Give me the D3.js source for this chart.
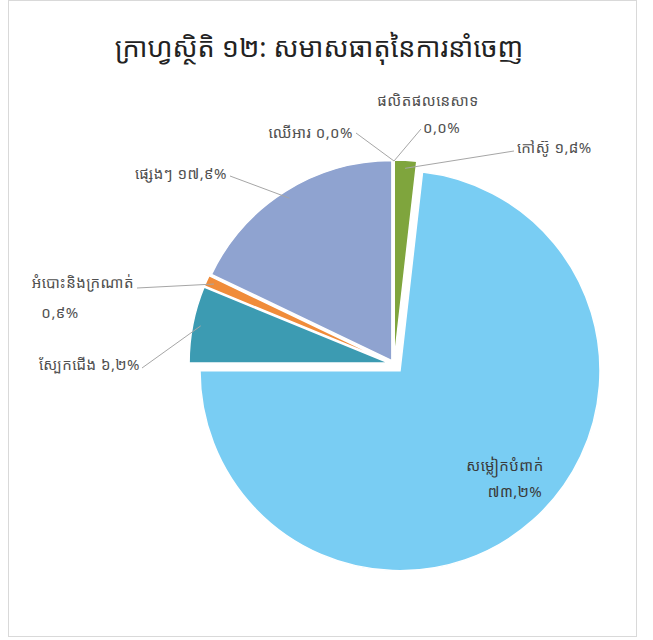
<!DOCTYPE html>
<head>
  <meta charset="utf-8">
  <title>Export composition</title>
  <script src="https://cdn.jsdelivr.net/npm/d3@7"></script>
  <style>
    body { margin: 0; background: #fff; }
    text { font-family: "Noto Sans Khmer", "Khmer OS", "Noto Sans", sans-serif; }
  </style>
</head>
<body>
<div id="chart"></div>
<script>
  // data (clockwise from 12 o'clock)
  var categories = ["ផលិតផលនេសាទ", "កៅស៊ូ", "សម្លៀកបំពាក់", "ស្បែកជើង", "អំបោះនិងក្រណាត់", "ផ្សេងៗ", "ឈើអារ"];
  var shares = [0.0, 1.8, 73.2, 6.2, 0.9, 17.9, 0.0];
  var colors = ["#4a7ebb", "#7fa53d", "#79cdf3", "#3c9bb2", "#f08c3a", "#8fa3d0", "#c0504d"];
  var title = "ក្រាហ្វស្ថិតិ ១២: សមាសធាតុនៃការនាំចេញ";

  var width = 653, height = 640;
  var cx = 394, cy = 364, r = 200;

  var khDigits = "០១២៣៤៥៦៧៨៩";
  function kh(v) {
    return v.toFixed(1).replace(".", ",").replace(/[0-9]/g, function(d) { return khDigits[+d]; }) + "%";
  }

  var svg = d3.select("#chart").append("svg")
    .attr("width", width).attr("height", height);

  // frame
  svg.append("rect")
    .attr("x", 8.5).attr("y", 0.5).attr("width", 628).attr("height", 636)
    .attr("fill", "#fff").attr("stroke", "#d9d9d9");

  svg.append("text")
    .attr("x", 319).attr("y", 57)
    .attr("text-anchor", "middle")
    .attr("font-size", 27)
    .attr("fill", "#222")
    .text(title);

  var pie = d3.pie().sort(null).value(function(d) { return d; });
  var arcs = pie(shares);
  var arc = d3.arc().innerRadius(0).outerRadius(r);

  // exploded offsets per slice
  var explode = [4, 4, 9, 5, 5, 4, 4];

  var g = svg.append("g").attr("transform", "translate(" + cx + "," + cy + ")");

  g.selectAll("path.slice")
    .data(arcs)
    .enter().append("path")
    .attr("class", "slice")
    .attr("transform", function(d, i) {
      var a = (d.startAngle + d.endAngle) / 2;
      return "translate(" + (Math.sin(a) * explode[i]) + "," + (-Math.cos(a) * explode[i]) + ")";
    })
    .attr("d", arc)
    .attr("fill", function(d, i) { return colors[i]; })
    .attr("stroke", "#fff")
    .attr("stroke-width", 1.5);

  // label layout: text position and leader end (page coords)
  var labelLayout = [
    { two: true, x: 428, y: 106, anchor: "middle", px: 423, py: 133, panchor: "start", lx: 421, ly: 129 },
    { x: 517, y: 153, anchor: "start", lx: 514, ly: 151 },
    { inside: true, x: 505, y: 471, px: 515, py: 497 },
    { x: 140, y: 370, anchor: "end", lx: 142, ly: 368 },
    { two: true, x: 134, y: 288, anchor: "end", px: 60, py: 318, panchor: "middle", lx: 137, ly: 288 },
    { x: 227, y: 179, anchor: "end", lx: 230, ly: 176 },
    { x: 353, y: 138, anchor: "end", lx: 356, ly: 133 }
  ];

  var labels = svg.append("g").attr("font-size", 15).attr("fill", "#505050")
    .attr("letter-spacing", 0.5);

  arcs.forEach(function(d, i) {
    var L = labelLayout[i];
    var a = (d.startAngle + d.endAngle) / 2;
    var e = explode[i];
    if (L.inside) {
      labels.append("text").attr("x", L.x).attr("y", L.y).attr("text-anchor", "middle")
        .attr("fill", "#3a3a3a").text(categories[i]);
      labels.append("text").attr("x", L.px).attr("y", L.py).attr("text-anchor", "middle")
        .attr("fill", "#3a3a3a").text(kh(shares[i]));
      return;
    }
    // leader from slice edge to label
    var sx = cx + Math.sin(a) * (r * 0.96 + e), sy = cy - Math.cos(a) * (r * 0.96 + e);
    if (shares[i] === 0) { sx = cx + Math.sin(a) * 3; sy = cy - r - 3; }
    labels.append("line")
      .attr("x1", sx).attr("y1", sy).attr("x2", L.lx).attr("y2", L.ly)
      .attr("stroke", "#a6a6a6").attr("stroke-width", 1);
    if (L.two) {
      labels.append("text").attr("x", L.x).attr("y", L.y).attr("text-anchor", L.anchor).text(categories[i]);
      labels.append("text").attr("x", L.px).attr("y", L.py).attr("text-anchor", L.panchor).text(kh(shares[i]));
    } else {
      labels.append("text").attr("x", L.x).attr("y", L.y).attr("text-anchor", L.anchor)
        .text(categories[i] + " " + kh(shares[i]));
    }
  });
</script>
</body>
